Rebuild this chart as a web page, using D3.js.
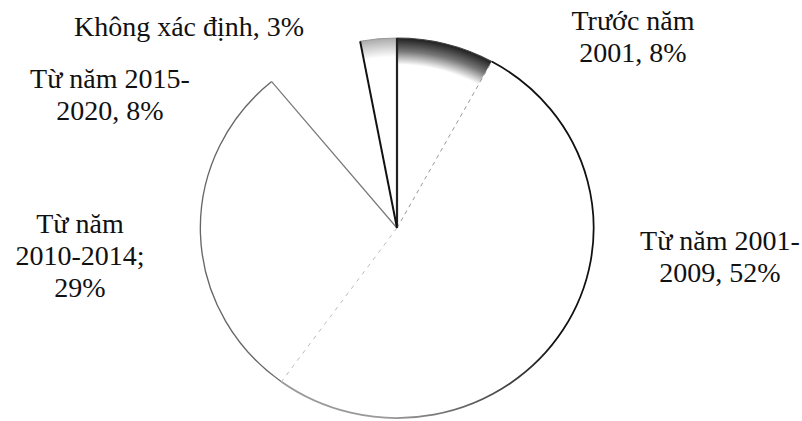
<!DOCTYPE html>
<html>
<head>
<meta charset="utf-8">
<script src="https://cdn.jsdelivr.net/npm/d3@7"></script>
<style>
  body { margin: 0; background: #fff; }
  text { font-family: "Liberation Serif", "DejaVu Serif", serif; fill: #111; }
</style>
</head>
<body>
<svg id="chart"></svg>
<script>
// slices, clockwise from 12 o'clock
const categories = ["Trước năm 2001", "Từ năm 2001-2009", "Từ năm 2010-2014", "Từ năm 2015-2020", "Không xác định"];
const values = [8, 52, 29, 8, 3];
const labelLines = [
  ["Trước năm", "2001, 8%"],
  ["Từ năm 2001-", "2009, 52%"],
  ["Từ năm", "2010-2014;", "29%"],
  ["Từ năm 2015-", "2020, 8%"],
  ["Không xác định, 3%"]
];

const width = 802, height = 421;
const cx = 397, cy = 228, r = 190, sx = 1.035;

const svg = d3.select("#chart").attr("width", width).attr("height", height);

const defs = svg.append("defs");
const grad = (id, stops) => {
  const g = defs.append("radialGradient").attr("id", id)
    .attr("gradientUnits", "userSpaceOnUse").attr("cx", 0).attr("cy", 0).attr("r", r);
  stops.forEach(s => g.append("stop").attr("offset", s[0]).attr("stop-color", s[1]));
};
grad("darkEdge", [[0, "#fff"], [0.86, "#fff"], [0.93, "#777"], [1, "#1e1e1e"]]);
grad("lightEdge", [[0, "#fff"], [0.9, "#fff"], [1, "#aaa"]]);

// rim of the big slice: black on the right, fading to grey at the bottom
const rimGrad = defs.append("linearGradient").attr("id", "rimFade")
  .attr("gradientUnits", "userSpaceOnUse")
  .attr("x1", r).attr("y1", 0).attr("x2", -r * 0.6).attr("y2", r);
rimGrad.append("stop").attr("offset", 0.25).attr("stop-color", "#111");
rimGrad.append("stop").attr("offset", 0.75).attr("stop-color", "#999");

const fills = ["url(#darkEdge)", "#fff", "#fff", "#fff", "url(#lightEdge)"];
const arcStroke = [
  {c: "#444", w: 1},
  {c: "url(#rimFade)", w: 1.7},
  {c: "#666", w: 1.3},
  {c: "none", w: 0},
  {c: "#999", w: 1}
];
// radial edges at the start angle of each slice
const edgeStroke = [
  {c: "#222", w: 2.2, d: null},
  {c: "#999", w: 1, d: "4,4"},
  {c: "#bbb", w: 1, d: "4,5"},
  {c: "#777", w: 1.2, d: null},
  {c: "#111", w: 2, d: null}
];

const pie = d3.pie().sort(null).value(d => d)(values);
const arc = d3.arc().innerRadius(0).outerRadius(r);

const g = svg.append("g").attr("transform", `translate(${cx},${cy}) scale(${sx},1)`);

g.selectAll("path.slice").data(pie).enter().append("path")
  .attr("class", "slice")
  .attr("d", arc)
  .attr("fill", (d, i) => fills[i])
  .attr("stroke", "none");

g.selectAll("path.rim").data(pie).enter().append("path")
  .attr("class", "rim")
  .attr("d", d => {
    const p = d3.path();
    p.arc(0, 0, r, d.startAngle - Math.PI / 2, d.endAngle - Math.PI / 2);
    return p.toString();
  })
  .attr("fill", "none")
  .attr("stroke", (d, i) => arcStroke[i].c)
  .attr("stroke-width", (d, i) => arcStroke[i].w);

g.selectAll("line.edge").data(pie).enter().append("line")
  .attr("class", "edge")
  .attr("x1", 0).attr("y1", 0)
  .attr("x2", d => d3.pointRadial(d.startAngle, r)[0])
  .attr("y2", d => d3.pointRadial(d.startAngle, r)[1])
  .attr("stroke", (d, i) => edgeStroke[i].c)
  .attr("stroke-width", (d, i) => edgeStroke[i].w)
  .attr("stroke-dasharray", (d, i) => edgeStroke[i].d)
  .attr("vector-effect", "non-scaling-stroke");

// label anchors (centre x, first baseline)
const labelPos = [[633, 30], [720, 250], [80, 233], [110, 88], [189, 36]];
const lineH = 32;

const labels = svg.selectAll("text.lbl").data(labelLines).enter().append("text")
  .attr("class", "lbl")
  .attr("text-anchor", "middle")
  .attr("font-size", 28);

labels.each(function(lines, i) {
  const t = d3.select(this);
  lines.forEach((s, j) => {
    t.append("tspan")
      .attr("x", labelPos[i][0])
      .attr("y", labelPos[i][1] + j * lineH)
      .text(s);
  });
});
</script>
</body>
</html>
